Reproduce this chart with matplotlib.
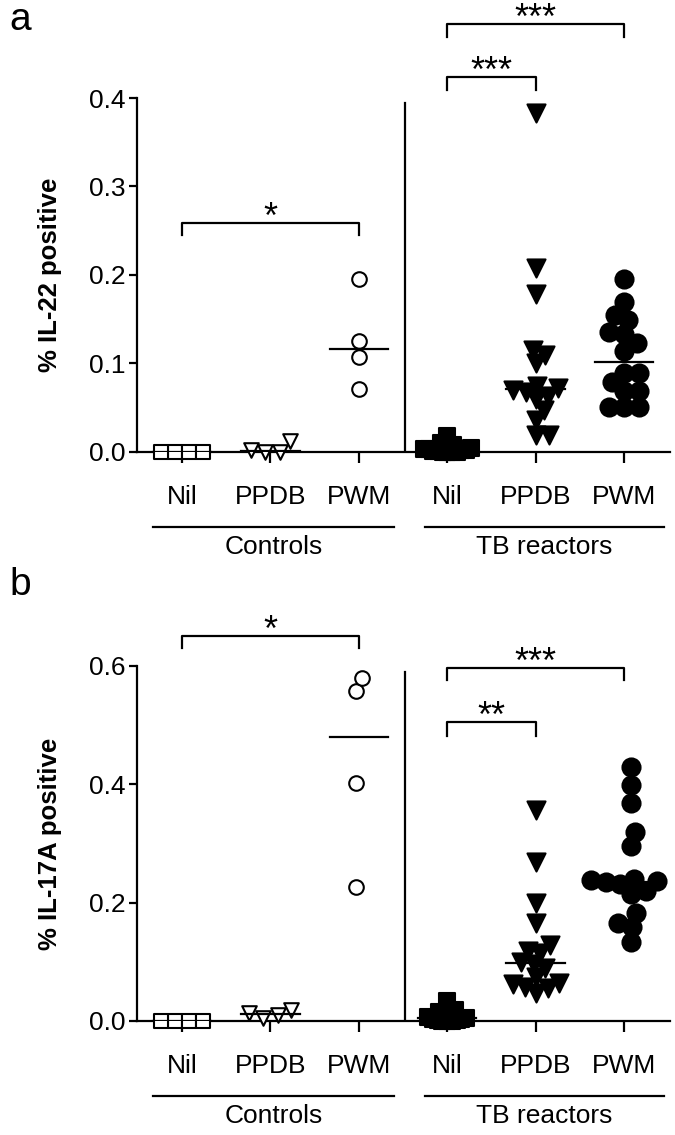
import matplotlib.pyplot as plt
import numpy as np

plt.rcParams['font.family'] = ['Liberation Sans', 'DejaVu Sans']

conditions = ['Nil', 'PPDB', 'PWM', 'Nil', 'PPDB', 'PWM']
group_names = ['Controls', 'TB reactors']

# panel a - % IL-22 positive
il22_ctrl_nil = [0.0, 0.0, 0.0, 0.0]
il22_ctrl_ppdb = [0.0, 0.0, 0.002, 0.012]
il22_ctrl_pwm = [0.195, 0.125, 0.107, 0.071]
il22_tb_nil = [0.0, 0.0, 0.0, 0.0, 0.001, 0.001, 0.002, 0.002, 0.003, 0.003,
               0.004, 0.005, 0.006, 0.008, 0.010, 0.018]
il22_tb_ppdb = [0.383, 0.208, 0.179, 0.115, 0.110, 0.100, 0.075, 0.072,
                0.070, 0.068, 0.063, 0.060, 0.047, 0.036, 0.019, 0.019]
il22_tb_pwm = [0.195, 0.169, 0.155, 0.149, 0.136, 0.133, 0.123, 0.114,
               0.089, 0.089, 0.079, 0.069, 0.069, 0.051, 0.051, 0.051]

# panel b - % IL-17A positive
il17_ctrl_nil = [0.0, 0.0, 0.0, 0.0]
il17_ctrl_ppdb = [0.013, 0.005, 0.010, 0.018]
il17_ctrl_pwm = [0.558, 0.580, 0.402, 0.226]
il17_tb_nil = [0.0, 0.0, 0.0, 0.001, 0.002, 0.003, 0.004, 0.005, 0.006, 0.008,
               0.010, 0.012, 0.015, 0.017, 0.018, 0.033]
il17_tb_ppdb = [0.357, 0.269, 0.199, 0.166, 0.128, 0.118, 0.115, 0.100,
                0.097, 0.089, 0.075, 0.065, 0.063, 0.057, 0.055, 0.047]
il17_tb_pwm = [0.429, 0.399, 0.368, 0.320, 0.296, 0.240, 0.238, 0.236,
               0.235, 0.232, 0.220, 0.215, 0.183, 0.166, 0.159, 0.134]

# significance brackets: (from column, to column, height, tick end, stars)
il22_brackets = [(0, 2, 0.259, 0.245, '*'),
                 (3, 5, 0.484, 0.469, '***'),
                 (3, 4, 0.424, 0.409, '***')]
il17_brackets = [(0, 2, 0.651, 0.630, '*'),
                 (3, 5, 0.597, 0.576, '***'),
                 (3, 4, 0.505, 0.482, '**')]

# marker style per column: (marker, filled, size in pt, spacing factor)
styles = [('s', False, 10, 1.0), ('v', False, 10.5, 1.0), ('o', False, 10.5, 1.0),
          ('s', True, 11.5, 0.3), ('v', True, 13, 0.7), ('o', True, 13, 0.82)]

W, H = 675, 1135
LW = 1.6
px_x = 88.4  # pixels per column


def swarm(vals, d, sy):
    # simple beeswarm in pixel units, returns x offsets in column units
    vals = np.asarray(vals, dtype=float)
    xs = np.zeros(len(vals))
    placed = []
    for i in np.argsort(vals, kind='stable'):
        y = vals[i] * sy
        cands = [0.0]
        for px, py in placed:
            dy = abs(py - y)
            if dy < d:
                dx = np.sqrt(d ** 2 - dy ** 2)
                cands += [px + dx, px - dx]
        cands.sort(key=abs)
        for c in cands:
            if all((c - px) ** 2 + (y - py) ** 2 >= d ** 2 - 1e-6 for px, py in placed):
                xs[i] = c
                break
        placed.append((xs[i], y))
    xs -= (xs.max() + xs.min()) / 2
    return xs / px_x


def draw_panel(ax, columns, ytop, ymax, yticks, ylabel, brackets, divider_top):
    sy = 452 / ytop
    for k, vals in enumerate(columns):
        marker, filled, ms, sp = styles[k]
        d = ms * 100 / 72 * sp
        xs = k + swarm(vals, d, sy)
        ax.scatter(xs, vals, marker=marker, s=ms ** 2,
                   facecolors='black' if filled else 'white',
                   edgecolors='black', linewidths=1.5, clip_on=False, zorder=3)
        med = np.median(vals)
        ax.plot([k - 0.33, k + 0.33], [med, med], color='black', lw=LW, zorder=4)

    ax.plot([2.52, 2.52], [0, divider_top], color='black', lw=LW)

    for x0, x1, h, h2, stars in brackets:
        ax.plot([x0, x0, x1, x1], [h2, h, h, h2], color='black', lw=LW, clip_on=False)
        ax.annotate(stars, xy=((x0 + x1) / 2, h), xytext=(0, -3.5),
                    textcoords='offset points', ha='center', va='baseline',
                    fontsize=26, annotation_clip=False)

    ax.set_xlim(-0.509, 5.52)
    ax.set_ylim(0, ytop)
    for s in ['top', 'right']:
        ax.spines[s].set_visible(False)
    ax.spines['left'].set_bounds(0, ymax)
    for s in ['left', 'bottom']:
        ax.spines[s].set_linewidth(LW)

    ax.set_xticks(range(6))
    ax.set_xticklabels(conditions, fontsize=19)
    ax.set_yticks(yticks)
    ax.set_yticklabels(['%.1f' % t for t in yticks], fontsize=19)
    ax.tick_params(axis='x', length=8, width=LW, pad=15.5)
    ax.tick_params(axis='y', length=6, width=LW, pad=2)
    ax.set_ylabel(ylabel, fontsize=18.5, fontweight='bold')
    ax.yaxis.set_label_coords(-0.141, (ymax / 2) / ytop)

    tr = ax.get_xaxis_transform()
    for (a, b), name in zip([(-0.33, 2.4), (2.75, 5.45)], group_names):
        ax.plot([a, b], [-75 / 452, -75 / 452], color='black', lw=LW,
                transform=tr, clip_on=False)
        ax.text((a + b) / 2, -95 / 452, name, ha='center', va='center',
                fontsize=19, transform=tr)


fig = plt.figure(figsize=(W / 100, H / 100), dpi=100)
ax_a = fig.add_axes([137 / W, 1 - 452 / H, 533 / W, 452 / H])
ax_b = fig.add_axes([137 / W, 1 - 1021 / H, 533 / W, 452 / H])

draw_panel(ax_a, [il22_ctrl_nil, il22_ctrl_ppdb, il22_ctrl_pwm,
                  il22_tb_nil, il22_tb_ppdb, il22_tb_pwm],
           452 / 885, 0.4, [0.0, 0.1, 0.2, 0.3, 0.4], '% IL-22 positive',
           il22_brackets, 0.394)
draw_panel(ax_b, [il17_ctrl_nil, il17_ctrl_ppdb, il17_ctrl_pwm,
                  il17_tb_nil, il17_tb_ppdb, il17_tb_pwm],
           452 / 591.7, 0.6, [0.0, 0.2, 0.4, 0.6], '% IL-17A positive',
           il17_brackets, 0.59)

fig.text(20 / W, 1 - 20 / H, 'a', fontsize=28, ha='center', va='center')
fig.text(20 / W, 1 - 585 / H, 'b', fontsize=28, ha='center', va='center')

plt.savefig('out.png', dpi=100)
